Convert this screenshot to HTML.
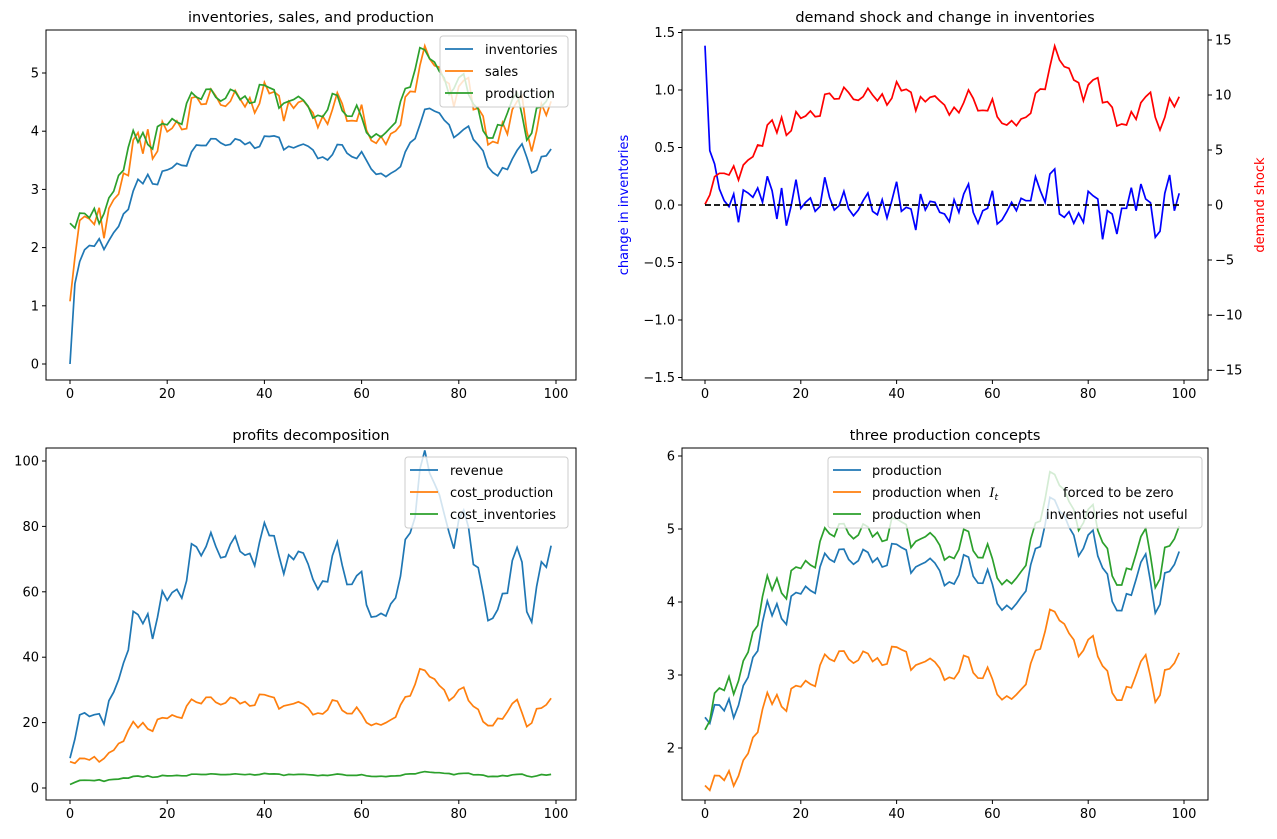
<!DOCTYPE html>
<html><head><meta charset="utf-8"><style>
body{margin:0;background:#fff;width:1277px;height:834px;overflow:hidden}
svg{font-family:"DejaVu Sans","Liberation Sans",sans-serif}
</style></head><body>
<svg id="s" width="1277" height="834" xmlns="http://www.w3.org/2000/svg"></svg>
<script>
const S=document.getElementById('s');let h='';
const rz=[523,495,440,430,430,435,408,450,405,390,380,345,348,285,270,308,262,316,302,245,265,258,243,260,258,193,190,207,206,172,188,208,211,200,175,195,212,192,225,205,155,182,178,187,242,200,215,202,198,212,225,255,232,248,218,180,205,242,241,242,207,260,280,285,272,287,267,262,250,190,177,178,110,48,90,110,115,150,158,212,165,150,143,218,215,232,288,282,285,245,268,218,200,187,262,300,262,205,230,200];
const bz=[45,360,400,475,510,528,490,575,478,487,500,472,515,437,480,565,472,585,525,447,533,515,502,542,527,440,500,538,525,482,535,555,538,510,487,542,552,507,562,510,453,542,530,535,598,490,538,512,515,545,550,573,507,545,490,460,545,578,540,533,480,580,568,543,515,540,503,510,510,438,480,515,430,415,550,560,543,578,548,575,482,495,505,626,540,550,610,533,533,471,540,460,505,516,620,602,488,433,540,488];
const d=rz.map(z=>(175-z/3)/11),dI=bz.map(z=>(523-z)/345);
const Sa=d.map((x,t)=>1.05+0.45*x-0.01*x*x+(t>0?0.45*Math.exp(-t/6):0));
const I=[0,1.38];for(let t=2;t<100;t++)I.push(0.45*I[t-1]+0.55*0.84*Sa[t]);
const P=Sa.map((s,t)=>t==0?2.42:s+(t<99?0.84*(Sa[t+1]-s)*0.8:0.1)+0.08);
const rev=P.map((p,t)=>3.5*p*Sa[t]),cp=P.map(p=>1.2*p*p+1),ci=Sa.map(s=>0.9*s+0.1);
const o4=P.map(p=>0.8*p-0.45),g4=P.map((p,t)=>p+0.35-0.52*Math.exp(-t/2));
const T=(x,y,s,a,extra)=>h+=`<text x="${x}" y="${y}" font-size="${extra&&extra.fs||13}" text-anchor="${a||'middle'}" fill="${extra&&extra.c||'#000'}" ${extra&&extra.tr?'transform="'+extra.tr+'"':''}>${s}</text>`;
function ax(L,R,Tp,B,x0,xs,yf,yt,ylab,title){
 h+=`<rect x="${L}" y="${Tp}" width="${R-L}" height="${B-Tp}" fill="none" stroke="#000" stroke-width="1"/>`;
 for(let v=0;v<=100;v+=20){const x=x0+xs*v;h+=`<line x1="${x}" x2="${x}" y1="${B}" y2="${B+4}" stroke="#000"/>`;T(x,B+18,v)}
 yt.forEach((v,i)=>{const y=yf(v);h+=`<line x1="${L-4}" x2="${L}" y1="${y}" y2="${y}" stroke="#000"/>`;T(L-7,y+4.5,ylab[i],'end')});
 T((L+R)/2,Tp-8,title,'middle',{fs:14.5});
}
function line(arr,X,Y,c){h+=`<polyline fill="none" stroke="${c}" stroke-width="1.7" points="${arr.map((v,t)=>X(t).toFixed(1)+','+Y(v).toFixed(1)).join(' ')}"/>`}
function legend(x,y,w,items){h+=`<rect x="${x}" y="${y}" width="${w}" height="${items.length*22+5}" rx="3" fill="#fff" fill-opacity="0.8" stroke="#ccc"/>`;
 items.forEach((it,i)=>{const yy=y+13+i*22;h+=`<line x1="${x+5}" x2="${x+33}" y1="${yy}" y2="${yy}" stroke="${it[1]}" stroke-width="1.7"/>`;h+=`<text x="${x+45}" y="${yy+5}" font-size="13">${it[0]}</text>`})}
const B='#1f77b4',O='#ff7f0e',G='#2ca02c';
let X1=t=>70+4.86*t,Y1=v=>364-58.2*v;
ax(46,576,30,380,70,4.86,Y1,[0,1,2,3,4,5],['0','1','2','3','4','5'],'inventories, sales, and production');
line(I,X1,Y1,B);line(Sa,X1,Y1,O);line(P,X1,Y1,G);
legend(440,36,128,[['inventories',B],['sales',O],['production',G]]);
let X2=t=>705+4.79*t,Y2=v=>205-115*v,Y2r=v=>205-11*v;
ax(682,1208,30,380,705,4.79,Y2,[1.5,1,0.5,0,-0.5,-1,-1.5],['1.5','1.0','0.5','0.0','−0.5','−1.0','−1.5'],'demand shock and change in inventories');
[15,10,5,0,-5,-10,-15].forEach(v=>{const y=Y2r(v);h+=`<line x1="1208" x2="1212" y1="${y}" y2="${y}" stroke="#000"/>`;T(1215,y+4.5,v<0?'−'+(-v):v,'start')});
line(dI,X2,Y2,'blue');line(d,X2,Y2r,'red');
h+=`<line x1="705" x2="1179" y1="205" y2="205" stroke="#000" stroke-width="1.7" stroke-dasharray="6,3"/>`;
T(628,205,'change in inventories','middle',{c:'blue',tr:'rotate(-90 628 205)'});
T(1264,205,'demand shock','middle',{c:'red',tr:'rotate(-90 1264 205)'});
let Y3=v=>788-3.27*v;
ax(46,576,448,800,70,4.86,Y3,[0,20,40,60,80,100],['0','20','40','60','80','100'],'profits decomposition');
line(rev,X1,Y3,B);line(cp,X1,Y3,O);line(ci,X1,Y3,G);
legend(405,457,163,[['revenue',B],['cost_production',O],['cost_inventories',G]]);
let Y4=v=>748-73*(v-2);
ax(682,1208,448,800,705,4.79,Y4,[2,3,4,5,6],['2','3','4','5','6'],'three production concepts');
line(P,X2,Y4,B);line(o4,X2,Y4,O);line(g4,X2,Y4,G);
h+=`<rect x="828" y="457" width="374" height="71" rx="3" fill="#fff" fill-opacity="0.8" stroke="#ccc"/>`;
[[B,'production'],[O,'production when &#160;<tspan font-style="italic" font-family="DejaVu Serif">I</tspan><tspan font-size="9" dy="3" font-style="italic">t</tspan>'],[G,'production when']].forEach((it,i)=>{const yy=470+i*22;h+=`<line x1="833" x2="861" y1="${yy}" y2="${yy}" stroke="${it[0]}" stroke-width="1.7"/><text x="872" y="${yy+5}" font-size="13">${it[1]}</text>`});
T(1063,497,'forced to be zero','start');T(1046,519,'inventories not useful','start');
S.innerHTML=h;
</script>
</body></html>
